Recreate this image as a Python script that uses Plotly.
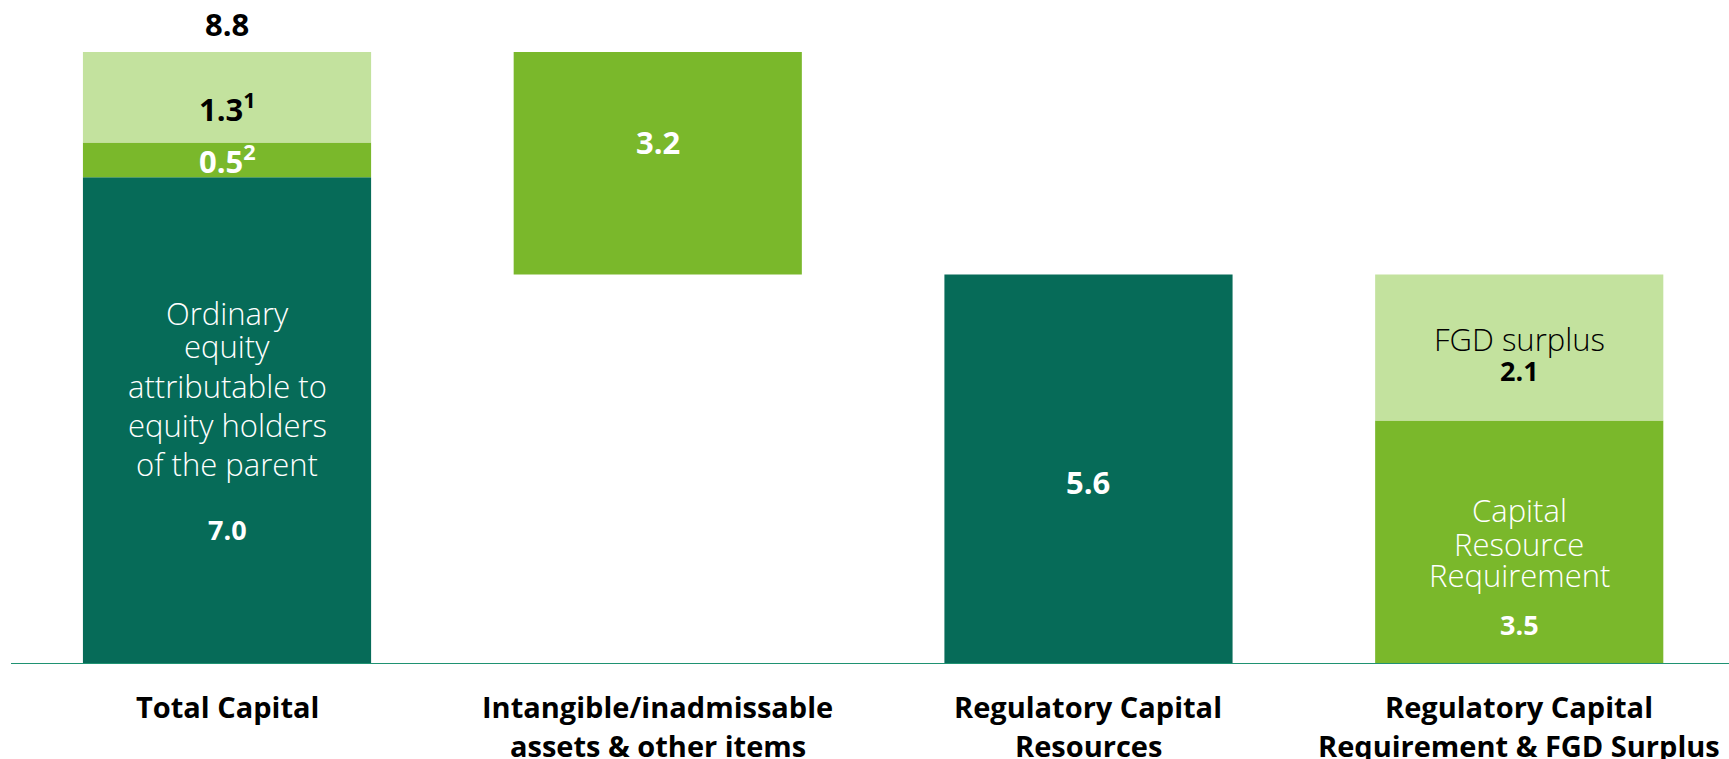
import plotly.graph_objects as go

# ---- data ----
categories = ["Total Capital", "Intangible/inadmissable assets & other items",
              "Regulatory Capital Resources", "Regulatory Capital Requirement & FGD Surplus"]
cat_label_lines = [["Total Capital"],
                   ["Intangible/inadmissable", "assets & other items"],
                   ["Regulatory Capital", "Resources"],
                   ["Regulatory Capital", "Requirement & FGD Surplus"]]

equity = 7.0          # ordinary equity attributable to equity holders of the parent
other_a = 0.5         # footnote 2
other_b = 1.3         # footnote 1
total_capital = 8.8
deductions = 3.2
reg_resources = 5.6
crr = 3.5             # capital resource requirement
fgd_surplus = 2.1

DARK = "#066B58"
MID = "#7AB82B"
LIGHT = "#C3E29E"
AXIS = "#1F9272"

BOLD_FONT = "Open Sans"
LIGHT_FONT = "Open Sans"

x = [0, 1, 2, 3]
W = 0.669

fig = go.Figure()
# dark segments
fig.add_trace(go.Bar(x=[x[0], x[2]], y=[equity, reg_resources], base=[0, 0],
                     width=W, marker=dict(color=DARK, line=dict(width=0)),
                     hoverinfo="skip"))
# mid-green segments
fig.add_trace(go.Bar(x=[x[0], x[1], x[3]], y=[other_a, deductions, crr],
                     base=[equity, reg_resources, 0],
                     width=W, marker=dict(color=MID, line=dict(width=0)),
                     hoverinfo="skip"))
# light-green segments
fig.add_trace(go.Bar(x=[x[0], x[3]], y=[other_b, fgd_surplus],
                     base=[equity + other_a, crr],
                     width=W, marker=dict(color=LIGHT, line=dict(width=0)),
                     hoverinfo="skip"))

ann = []
def add(xv, yv, text, size, color, bold=False, shift=0):
    f = dict(family=BOLD_FONT if bold else LIGHT_FONT, size=size, color=color,
             weight="bold" if bold else 300)
    ann.append(dict(x=xv, y=yv, xref="x", yref="y", text=text, showarrow=False,
                    font=f, xanchor="center", yanchor="middle", yshift=shift))

NUM = 31
NUM_S = 27
LT = 31

# Bar 1
add(x[0], total_capital, f"{total_capital:.1f}", NUM, "black", bold=True, shift=28)
add(x[0], equity + other_a + other_b / 2, f"{other_b:.1f}<sup>1</sup>", NUM, "black", bold=True, shift=-10)
add(x[0], equity + other_a / 2, f"{other_a:.1f}<sup>2</sup>", NUM, "white", bold=True, shift=0)
c1 = equity / 2
for txt, sh in [("Ordinary", 108), ("equity", 75), ("attributable to", 35),
                ("equity holders", -4), ("of the parent", -43)]:
    add(x[0], c1, txt, LT, "white", shift=sh)
add(x[0], c1, f"{equity:.1f}", NUM_S, "white", bold=True, shift=-109)

# Bar 2
add(x[1], reg_resources + deductions / 2, f"{deductions:.1f}", NUM, "white", bold=True, shift=21)

# Bar 3
add(x[2], reg_resources / 2, f"{reg_resources:.1f}", NUM, "white", bold=True, shift=-13)

# Bar 4
c4l = crr + fgd_surplus / 2
add(x[3], c4l, "FGD surplus", LT, "black", shift=9)
add(x[3], c4l, f"{fgd_surplus:.1f}", NUM_S, "black", bold=True, shift=-23)
c4m = crr / 2
for txt, sh in [("Capital", 32), ("Resource", -2), ("Requirement", -33)]:
    add(x[3], c4m, txt, LT, "white", shift=sh)
add(x[3], c4m, f"{crr:.1f}", NUM_S, "white", bold=True, shift=-82)

# category labels
for xi, lines in zip(x, cat_label_lines):
    for j, line in enumerate(lines):
        ann.append(dict(x=xi, y=0, xref="x", yref="paper", text=line, showarrow=False,
                        font=dict(family=BOLD_FONT, size=29, color="black", weight="bold"),
                        xanchor="center", yanchor="middle", yshift=-42 - 39 * j))

fig.update_layout(
    width=1729, height=759,
    margin=dict(l=11, r=0, t=0, b=95),
    paper_bgcolor="white", plot_bgcolor="white",
    barmode="overlay", showlegend=False,
    annotations=ann,
    xaxis=dict(range=[-0.5015, 3.487], showticklabels=False, showgrid=False,
               zeroline=False, showline=False, ticks="", fixedrange=True),
    yaxis=dict(range=[0, 664 / 69.55], showticklabels=False, showgrid=False,
               zeroline=False, showline=False, ticks="", fixedrange=True),
    shapes=[dict(type="line", xref="paper", yref="y", x0=0, x1=1, y0=0, y1=0,
                 line=dict(color=AXIS, width=2), layer="above")],
)

fig.write_html("out.html", config={"displayModeBar": False},
               post_script="document.body.style.margin='0px';document.body.style.overflow='hidden';")
